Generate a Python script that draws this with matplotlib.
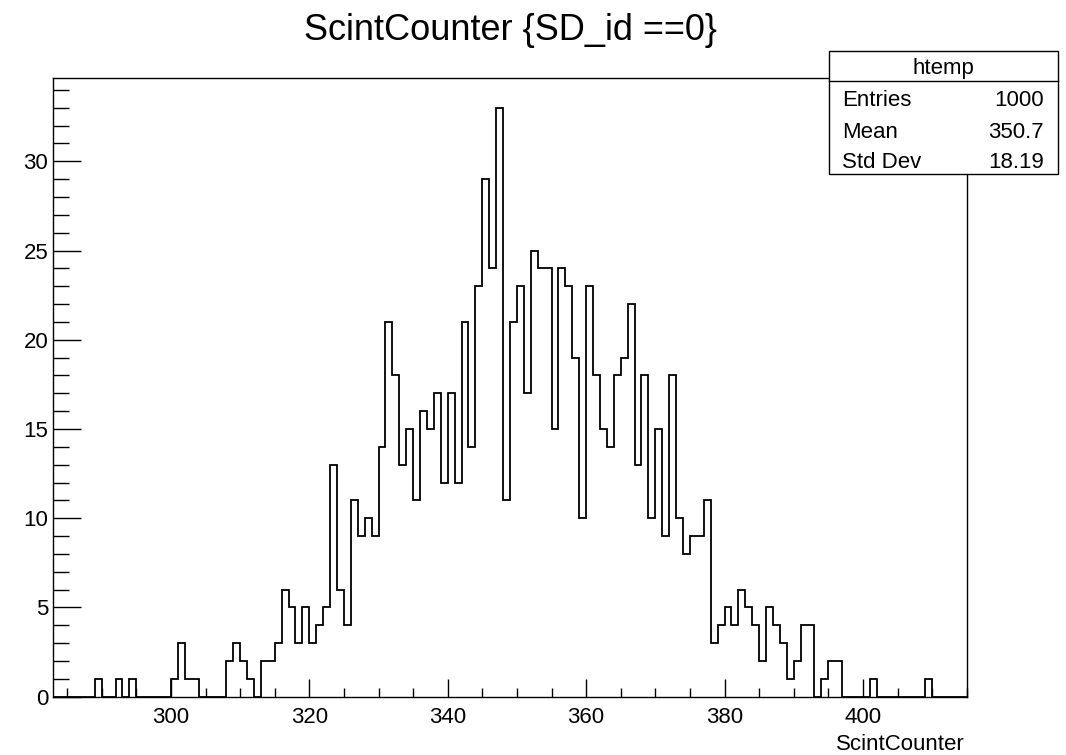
import numpy as np
import matplotlib
matplotlib.use("Agg")
import matplotlib.pyplot as plt
from matplotlib.patches import Rectangle
from matplotlib.ticker import MultipleLocator

plt.rcParams['font.family'] = ['Liberation Sans', 'DejaVu Sans']

# histogram htemp: 1-unit bins from 283 to 415
first_edge = 283
counts = [0, 0, 0, 0, 0, 0,                      # 283-288
          1, 0, 0, 1, 0, 1, 0, 0, 0, 0, 0,       # 289-299
          1, 3, 1, 1, 0, 0, 0, 0, 2, 3,          # 300-309
          2, 1, 0, 2, 2, 3, 6, 5, 3, 5,          # 310-319
          3, 4, 5, 13, 6, 4, 11, 9, 10, 9,       # 320-329
          14, 21, 18, 13, 15, 11, 16, 15, 17, 12,  # 330-339
          17, 12, 21, 14, 23, 29, 24, 33, 11, 21,  # 340-349
          23, 17, 25, 24, 24, 15, 24, 23, 19, 10,  # 350-359
          23, 18, 15, 14, 18, 19, 22, 13, 18, 10,  # 360-369
          15, 9, 18, 10, 8, 9, 9, 11, 3, 4,      # 370-379
          5, 4, 6, 5, 4, 2, 5, 4, 3, 1,          # 380-389
          2, 4, 4, 0, 1, 2, 2, 0, 0, 0,          # 390-399
          0, 1, 0, 0, 0, 0, 0, 0, 0, 1,          # 400-409
          0, 0, 0, 0, 0]                         # 410-414
edges = np.arange(first_edge, first_edge + len(counts) + 1)

title = "ScintCounter {SD_id ==0}"
xlabel = "ScintCounter"
stats_name = "htemp"
stats_rows = [("Entries", "1000"), ("Mean", "350.7"), ("Std Dev", "18.19")]

W, H = 1066, 755
fig = plt.figure(figsize=(W / 100, H / 100), dpi=100)

def fx(px):
    return px / W

def fy(py):
    return 1 - py / H

left, right, top, bottom = 53.3, 966.7, 78.3, 696.7
ax = fig.add_axes([fx(left), fy(bottom), fx(right - left), (bottom - top) / H])

ax.stairs(counts, edges, color="black", linewidth=1.3, baseline=0)

ax.set_xlim(edges[0], edges[-1])
ax.set_ylim(0, max(counts) * 1.05)

ax.xaxis.set_major_locator(MultipleLocator(20))
ax.xaxis.set_minor_locator(MultipleLocator(5))
ax.yaxis.set_major_locator(MultipleLocator(5))
ax.yaxis.set_minor_locator(MultipleLocator(1))

fs = 16
ax.tick_params(axis="x", which="major", direction="in", length=12.7, width=1.0,
               labelsize=fs, pad=7.2, top=False)
ax.tick_params(axis="x", which="minor", direction="in", length=6.4, width=1.0, top=False)
ax.tick_params(axis="y", which="major", direction="in", length=20.2, width=1.0,
               labelsize=fs, pad=3.6, right=False)
ax.tick_params(axis="y", which="minor", direction="in", length=11.5, width=1.0, right=False)
for s in ax.spines.values():
    s.set_linewidth(1.0)

fig.text(fx(510), fy(40), title, ha="center", va="baseline", fontsize=26)
fig.text(fx(965), fy(750), xlabel, ha="right", va="baseline", fontsize=fs)

# stats box
bx0, bx1, by0, by1, bdiv = 829.3, 1058.3, 50.7, 174.0, 80.7
fig.patches.append(Rectangle((fx(bx0), fy(by1)), fx(bx1 - bx0), (by1 - by0) / H,
                             transform=fig.transFigure, facecolor="white",
                             edgecolor="black", linewidth=1.0, zorder=5))
fig.lines.append(plt.Line2D([fx(bx0), fx(bx1)], [fy(bdiv), fy(bdiv)],
                            transform=fig.transFigure, color="black", linewidth=1.0, zorder=6))
fig.text(fx((bx0 + bx1) / 2), fy(74), stats_name, ha="center", va="baseline",
         fontsize=fs, zorder=7)
for i, (name, val) in enumerate(stats_rows):
    yb = [106, 137.7, 168.3][i]
    fig.text(fx(841.7), fy(yb), name, ha="left", va="baseline", fontsize=fs, zorder=7)
    fig.text(fx(1044), fy(yb), val, ha="right", va="baseline", fontsize=fs, zorder=7)

fig.savefig("out.png", dpi=100)
